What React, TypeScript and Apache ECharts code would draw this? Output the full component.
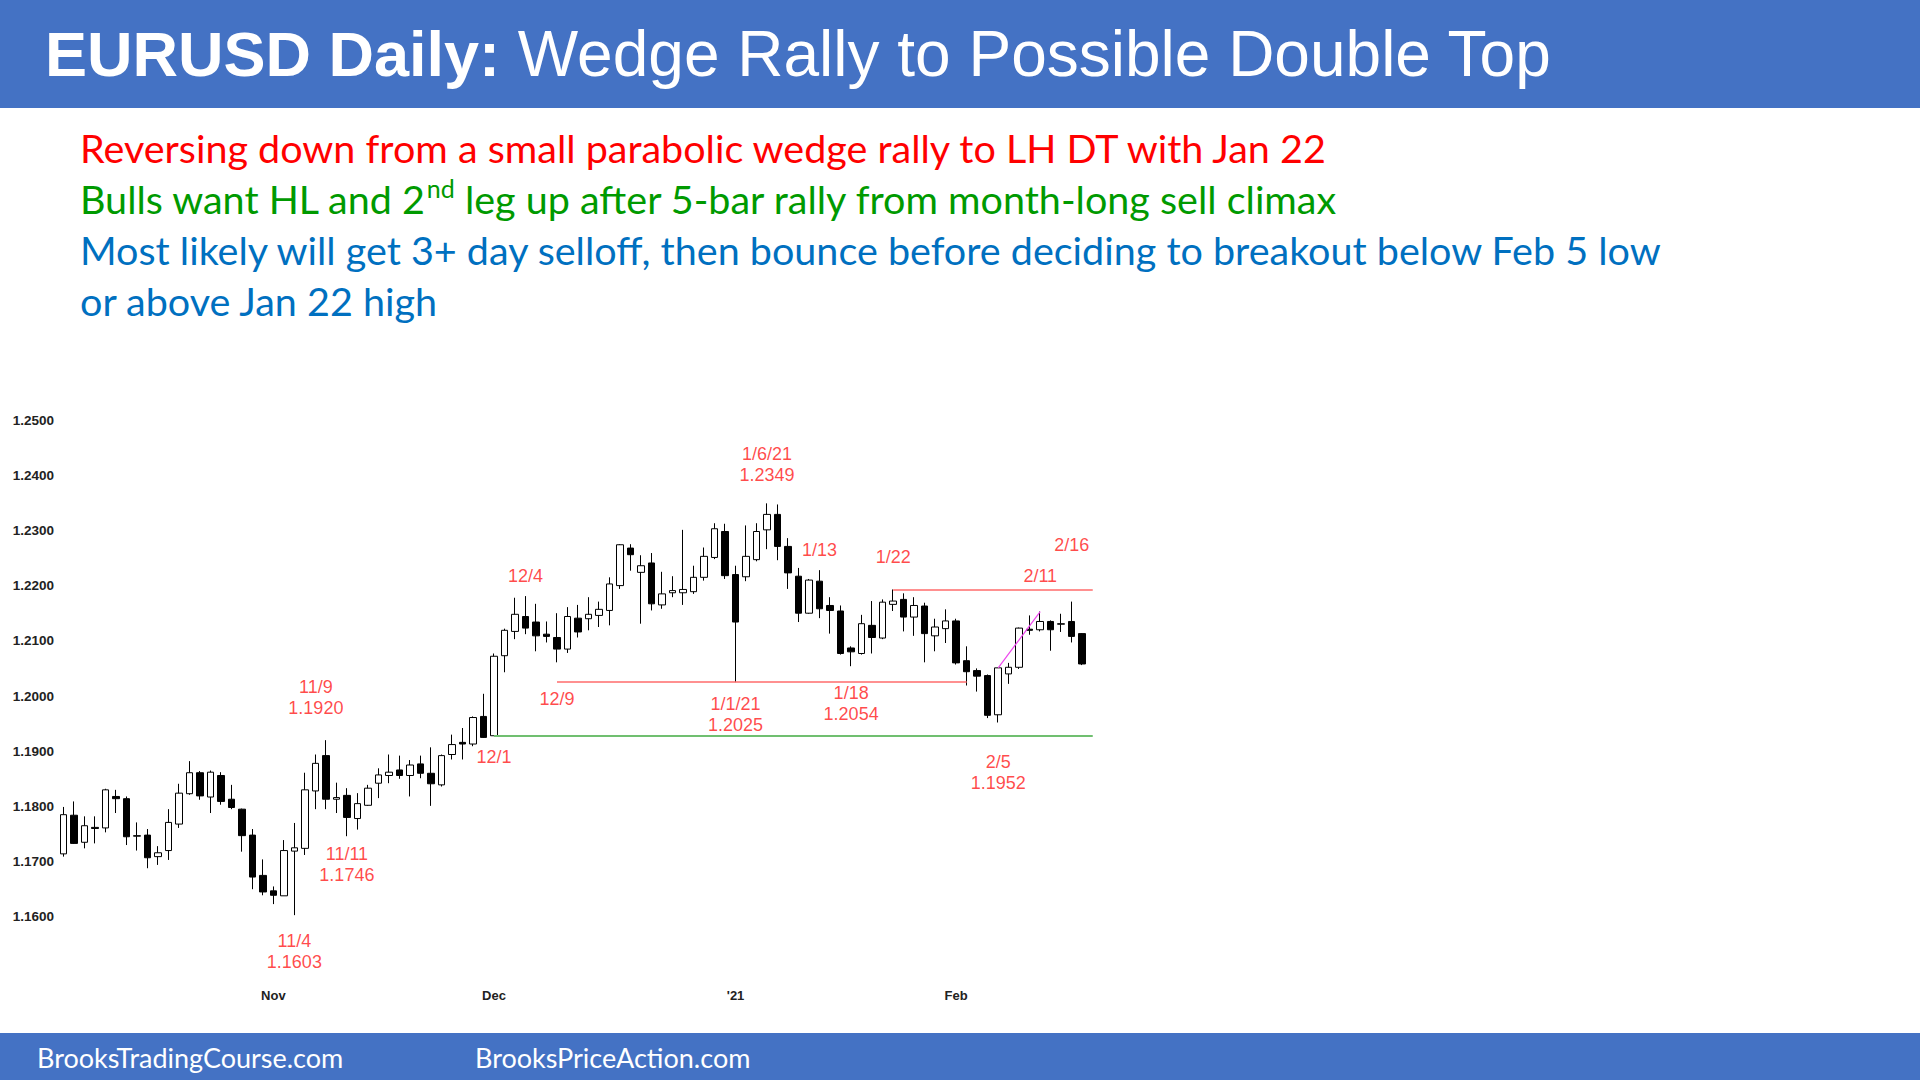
import React, { useEffect, useRef } from 'react';
import * as echarts from 'echarts';

// trading days shown on the chart (last one is an empty slot the lines run to)
const dates = [
  '2020-10-05', '2020-10-06', '2020-10-07', '2020-10-08', '2020-10-09',
  '2020-10-12', '2020-10-13', '2020-10-14', '2020-10-15', '2020-10-16',
  '2020-10-19', '2020-10-20', '2020-10-21', '2020-10-22', '2020-10-23',
  '2020-10-26', '2020-10-27', '2020-10-28', '2020-10-29', '2020-10-30',
  '2020-11-02', '2020-11-03', '2020-11-04', '2020-11-05', '2020-11-06',
  '2020-11-09', '2020-11-10', '2020-11-11', '2020-11-12', '2020-11-13',
  '2020-11-16', '2020-11-17', '2020-11-18', '2020-11-19', '2020-11-20',
  '2020-11-23', '2020-11-24', '2020-11-25', '2020-11-26', '2020-11-27',
  '2020-11-30', '2020-12-01', '2020-12-02', '2020-12-03', '2020-12-04',
  '2020-12-07', '2020-12-08', '2020-12-09', '2020-12-10', '2020-12-11',
  '2020-12-14', '2020-12-15', '2020-12-16', '2020-12-17', '2020-12-18',
  '2020-12-21', '2020-12-22', '2020-12-23', '2020-12-24', '2020-12-25',
  '2020-12-28', '2020-12-29', '2020-12-30', '2020-12-31', '2021-01-01',
  '2021-01-04', '2021-01-05', '2021-01-06', '2021-01-07', '2021-01-08',
  '2021-01-11', '2021-01-12', '2021-01-13', '2021-01-14', '2021-01-15',
  '2021-01-18', '2021-01-19', '2021-01-20', '2021-01-21', '2021-01-22',
  '2021-01-25', '2021-01-26', '2021-01-27', '2021-01-28', '2021-01-29',
  '2021-02-01', '2021-02-02', '2021-02-03', '2021-02-04', '2021-02-05',
  '2021-02-08', '2021-02-09', '2021-02-10', '2021-02-11', '2021-02-12',
  '2021-02-15', '2021-02-16', '2021-02-17', '2021-02-18',
];

const opens = [
  1.1714, 1.1784, 1.1735, 1.1762, 1.1761, 1.1818, 1.1814, 1.1746, 1.1748, 1.1709,
  1.1720, 1.1768, 1.1823, 1.1861, 1.1817, 1.1856, 1.1813, 1.1795, 1.1748, 1.1675,
  1.1647, 1.1638, 1.1719, 1.1724, 1.1828, 1.1892, 1.1813, 1.1820, 1.1778, 1.1802,
  1.1842, 1.1856, 1.1866, 1.1856, 1.1877, 1.1860, 1.1839, 1.1894, 1.1916, 1.1913,
  1.1963, 1.1928, 1.2073, 1.2117, 1.2144, 1.2134, 1.2112, 1.2106, 1.2085, 1.2141,
  1.2140, 1.2146, 1.2155, 1.2200, 1.2268, 1.2224, 1.2241, 1.2165, 1.2187, 1.2187,
  1.2189, 1.2215, 1.2251, 1.2298, 1.2220, 1.2216, 1.2247, 1.2301, 1.2329, 1.2271,
  1.2217, 1.2150, 1.2208, 1.2164, 1.2154, 1.2087, 1.2077, 1.2128, 1.2105, 1.2166,
  1.2175, 1.2143, 1.2163, 1.2109, 1.2122, 1.2136, 1.2064, 1.2046, 1.2037, 1.1966,
  1.2040, 1.2052, 1.2121, 1.2120, 1.2135, 1.2130, 1.2135, 1.2113,
];

const closes = [
  1.1785, 1.1733, 1.1765, 1.1760, 1.1830, 1.1814, 1.1745, 1.1747, 1.1707, 1.1716,
  1.1771, 1.1824, 1.1861, 1.1819, 1.1862, 1.1809, 1.1798, 1.1747, 1.1672, 1.1645,
  1.1639, 1.1720, 1.1725, 1.1830, 1.1878, 1.1813, 1.1816, 1.1780, 1.1805, 1.1833,
  1.1857, 1.1862, 1.1856, 1.1875, 1.1860, 1.1841, 1.1892, 1.1912, 1.1913, 1.1961,
  1.1925, 1.2072, 1.2119, 1.2148, 1.2123, 1.2109, 1.2108, 1.2085, 1.2144, 1.2116,
  1.2148, 1.2157, 1.2203, 1.2274, 1.2256, 1.2236, 1.2167, 1.2185, 1.2191, 1.2193,
  1.2215, 1.2253, 1.2303, 1.2218, 1.2134, 1.2253, 1.2298, 1.2329, 1.2271, 1.2223,
  1.2150, 1.2210, 1.2158, 1.2155, 1.2077, 1.2080, 1.2131, 1.2106, 1.2170, 1.2172,
  1.2143, 1.2164, 1.2113, 1.2125, 1.2136, 1.2060, 1.2044, 1.2036, 1.1965, 1.2051,
  1.2052, 1.2123, 1.2119, 1.2135, 1.2120, 1.2131, 1.2108, 1.2058,
];

const lows = [
  1.1709, 1.1732, 1.1724, 1.1733, 1.1753, 1.1788, 1.1730, 1.1720, 1.1688, 1.1694,
  1.1703, 1.1761, 1.1821, 1.1812, 1.1788, 1.1803, 1.1795, 1.1718, 1.1650, 1.1639,
  1.1623, 1.1638, 1.1603, 1.1712, 1.1795, 1.1795, 1.1788, 1.1746, 1.1758, 1.1801,
  1.1815, 1.1842, 1.1850, 1.1818, 1.1851, 1.1801, 1.1836, 1.1885, 1.1885, 1.1909,
  1.1924, 1.1928, 1.2043, 1.2103, 1.2112, 1.2081, 1.2097, 1.2061, 1.2078, 1.2106,
  1.2119, 1.2125, 1.2128, 1.2194, 1.2227, 1.2131, 1.2155, 1.2158, 1.2179, 1.2165,
  1.2185, 1.2209, 1.2248, 1.2212, 1.2025, 1.2208, 1.2244, 1.2266, 1.2246, 1.2194,
  1.2134, 1.2149, 1.2141, 1.2113, 1.2075, 1.2054, 1.2075, 1.2077, 1.2103, 1.2154,
  1.2117, 1.2109, 1.2061, 1.2081, 1.2096, 1.2057, 1.2019, 1.2008, 1.1960, 1.1952,
  1.2022, 1.2049, 1.2111, 1.2117, 1.2082, 1.2116, 1.2097, 1.2056,
];

const highs = [
  1.1799, 1.1809, 1.1782, 1.1782, 1.1832, 1.1830, 1.1818, 1.1771, 1.1759, 1.1728,
  1.1795, 1.1841, 1.1882, 1.1864, 1.1865, 1.1862, 1.1839, 1.1796, 1.1759, 1.1704,
  1.1655, 1.1739, 1.1770, 1.1861, 1.1894, 1.1920, 1.1843, 1.1833, 1.1824, 1.1839,
  1.1869, 1.1894, 1.1892, 1.1884, 1.1892, 1.1907, 1.1894, 1.1930, 1.1942, 1.1963,
  1.2004, 1.2077, 1.2122, 1.2178, 1.2181, 1.2167, 1.2135, 1.2150, 1.2161, 1.2165,
  1.2179, 1.2171, 1.2215, 1.2275, 1.2275, 1.2255, 1.2259, 1.2225, 1.2217, 1.2301,
  1.2236, 1.2269, 1.2313, 1.2312, 1.2236, 1.2309, 1.2313, 1.2349, 1.2347, 1.2286,
  1.2232, 1.2212, 1.2228, 1.2179, 1.2164, 1.2090, 1.2147, 1.2172, 1.2175, 1.2193,
  1.2186, 1.2179, 1.2169, 1.2140, 1.2157, 1.2140, 1.2090, 1.2050, 1.2039, 1.2051,
  1.2060, 1.2124, 1.2146, 1.2153, 1.2137, 1.2149, 1.2171, 1.2114,
];

// month ticks on the x axis
const tickDates = ['2020-11-02', '2020-12-01', '2021-01-01', '2021-02-01'];
const tickLabels = ['Nov', 'Dec', "'21", 'Feb'];

// red notes on the chart: text, anchor date, anchor price, x shift
const noteTexts = [
  '11/9\n1.1920', '11/11\n1.1746', '11/4\n1.1603', '12/1', '12/4', '12/9',
  '1/1/21\n1.2025', '1/6/21\n1.2349', '1/13', '1/18\n1.2054', '1/22',
  '2/5\n1.1952', '2/11', '2/16',
];
const noteDates = [
  '2020-11-09', '2020-11-11', '2020-11-04', '2020-12-01', '2020-12-04', '2020-12-09',
  '2021-01-01', '2021-01-06', '2021-01-13', '2021-01-18', '2021-01-22',
  '2021-02-05', '2021-02-11', '2021-02-16',
];
const notePrices = [
  1.1997, 1.1695, 1.1538, 1.1890, 1.2218, 1.1995,
  1.1966, 1.2420, 1.2265, 1.1986, 1.2252,
  1.1862, 1.2218, 1.2274,
];
const noteShift = [-10, 0, 0, 0, 0, 0, 0, 0, 0, 0, 0, 0, 0, 0];

// support / resistance lines: from date, from price, to date, to price, colour
const lineFrom = ['2020-12-01', '2020-12-09', '2021-01-22', '2021-02-05'];
const lineFromPrice = [1.1928, 1.2025, 1.2193, 1.2051];
const lineTo = ['2021-02-18', '2021-02-02', '2021-02-18', '2021-02-11'];
const lineToPrice = [1.1928, 1.2025, 1.2193, 1.2153];
const lineColors = ['#70BF70', '#FF6B6B', '#FF6B6B', '#EE44EE'];
const lineWidths = [2, 1.5, 1.5, 1.2];

const BODY_FONT = 'Lato, "Open Sans", sans-serif';
const ARIAL = '"Liberation Sans", Arial, sans-serif';
const BODY_SIZE = 39.5;

const App: React.FC = () => {
  const chartRef = useRef<HTMLDivElement>(null);

  useEffect(() => {
    if (!chartRef.current) return;
    const chart = echarts.init(chartRef.current, null, { renderer: 'svg' });

    const candles = dates.map((d, i) =>
      i < opens.length ? [opens[i], closes[i], lows[i], highs[i]] : '-'
    );

    const notes = noteTexts.map((t, i) => ({
      value: [noteDates[i], notePrices[i]],
      label: { formatter: t, offset: [noteShift[i], 0] },
    }));

    const lines = lineFrom.map((d, i) => [
      { coord: [d, lineFromPrice[i]], lineStyle: { color: lineColors[i], width: lineWidths[i], type: 'solid' } },
      { coord: [lineTo[i], lineToPrice[i]] },
    ]);

    const option = {
      animation: false,
      backgroundColor: '#ffffff',
      grid: { left: 58, right: 822, top: 420, bottom: 108 },
      xAxis: {
        type: 'category',
        data: dates,
        boundaryGap: true,
        axisLine: { show: false },
        axisTick: { show: false },
        splitLine: { show: false },
        axisLabel: {
          interval: (_i: number, v: string) => tickDates.includes(v),
          formatter: (v: string) => {
            const k = tickDates.indexOf(v);
            return k >= 0 ? tickLabels[k] : '';
          },
          fontFamily: ARIAL,
          fontWeight: 'bold',
          fontSize: 13,
          color: '#222',
          margin: 17,
        },
      },
      yAxis: {
        type: 'value',
        min: 1.15,
        max: 1.25,
        interval: 0.01,
        axisLine: { show: false },
        axisTick: { show: false },
        splitLine: { show: false },
        axisLabel: {
          formatter: (v: number) => (v < 1.155 ? '' : v.toFixed(4)),
          fontFamily: ARIAL,
          fontWeight: 'bold',
          fontSize: 13.5,
          color: '#222',
          margin: 4,
        },
      },
      series: [
        {
          type: 'candlestick',
          data: candles,
          barWidth: 7,
          itemStyle: {
            color: '#ffffff',
            color0: '#000000',
            borderColor: '#000000',
            borderColor0: '#000000',
            borderWidth: 1,
          },
          markLine: {
            silent: true,
            symbol: ['none', 'none'],
            label: { show: false },
            data: lines,
          },
        },
        {
          type: 'scatter',
          data: notes,
          symbolSize: 1,
          itemStyle: { color: 'transparent' },
          silent: true,
          label: {
            show: true,
            position: 'inside',
            color: '#FF1A1A',
            fontFamily: ARIAL,
            fontSize: 18,
            lineHeight: 21,
            align: 'center',
          },
        },
      ],
      graphic: [
        { type: 'rect', left: 0, top: 0, shape: { width: 1920, height: 108 }, style: { fill: '#4472C4' } },
        { type: 'rect', left: 0, top: 1033, shape: { width: 1920, height: 47 }, style: { fill: '#4472C4' } },
        {
          type: 'text',
          x: 45,
          y: 54,
          style: {
            text: '{b|EURUSD Daily:}{r| Wedge Rally to Possible Double Top}',
            verticalAlign: 'middle',
            rich: {
              b: { fontFamily: ARIAL, fontWeight: 'bold', fontSize: 63, fill: '#ffffff' },
              r: { fontFamily: ARIAL, fontSize: 64, fill: '#ffffff' },
            },
          },
        },
        {
          type: 'text',
          x: 80,
          y: 147,
          style: {
            text: 'Reversing down from a small parabolic wedge rally to LH DT with Jan 22',
            fill: '#FF0000',
            fontFamily: BODY_FONT,
            fontSize: BODY_SIZE,
            verticalAlign: 'middle',
          },
        },
        {
          type: 'text',
          x: 80,
          y: 198,
          style: {
            text: '{a|Bulls want HL and 2}{s|nd}{a| leg up after 5-bar rally from month-long sell climax}',
            verticalAlign: 'middle',
            rich: {
              a: { fontFamily: BODY_FONT, fontSize: BODY_SIZE, fill: '#009A00', lineHeight: 46 },
              s: { fontFamily: BODY_FONT, fontSize: 25, fill: '#009A00', verticalAlign: 'top', lineHeight: 30 },
            },
          },
        },
        {
          type: 'text',
          x: 80,
          y: 249,
          style: {
            text: 'Most likely will get 3+ day selloff, then bounce before deciding to breakout below Feb 5 low',
            fill: '#0070C0',
            fontFamily: BODY_FONT,
            fontSize: BODY_SIZE,
            verticalAlign: 'middle',
          },
        },
        {
          type: 'text',
          x: 80,
          y: 300,
          style: {
            text: 'or above Jan 22 high',
            fill: '#0070C0',
            fontFamily: BODY_FONT,
            fontSize: BODY_SIZE,
            verticalAlign: 'middle',
          },
        },
        {
          type: 'text',
          x: 37,
          y: 1057,
          style: { text: 'BrooksTradingCourse.com', fill: '#ffffff', fontFamily: BODY_FONT, fontSize: 27, verticalAlign: 'middle' },
        },
        {
          type: 'text',
          x: 475,
          y: 1057,
          style: { text: 'BrooksPriceAction.com', fill: '#ffffff', fontFamily: BODY_FONT, fontSize: 27, verticalAlign: 'middle' },
        },
      ],
    };

    chart.setOption(option as any);

    return () => {
      chart.dispose();
    };
  }, []);

  return (
    <div
      ref={chartRef}
      style={{ position: 'fixed', left: 0, top: 0, width: '1920px', height: '1080px', background: '#fff' }}
    ></div>
  );
};

export default App;
